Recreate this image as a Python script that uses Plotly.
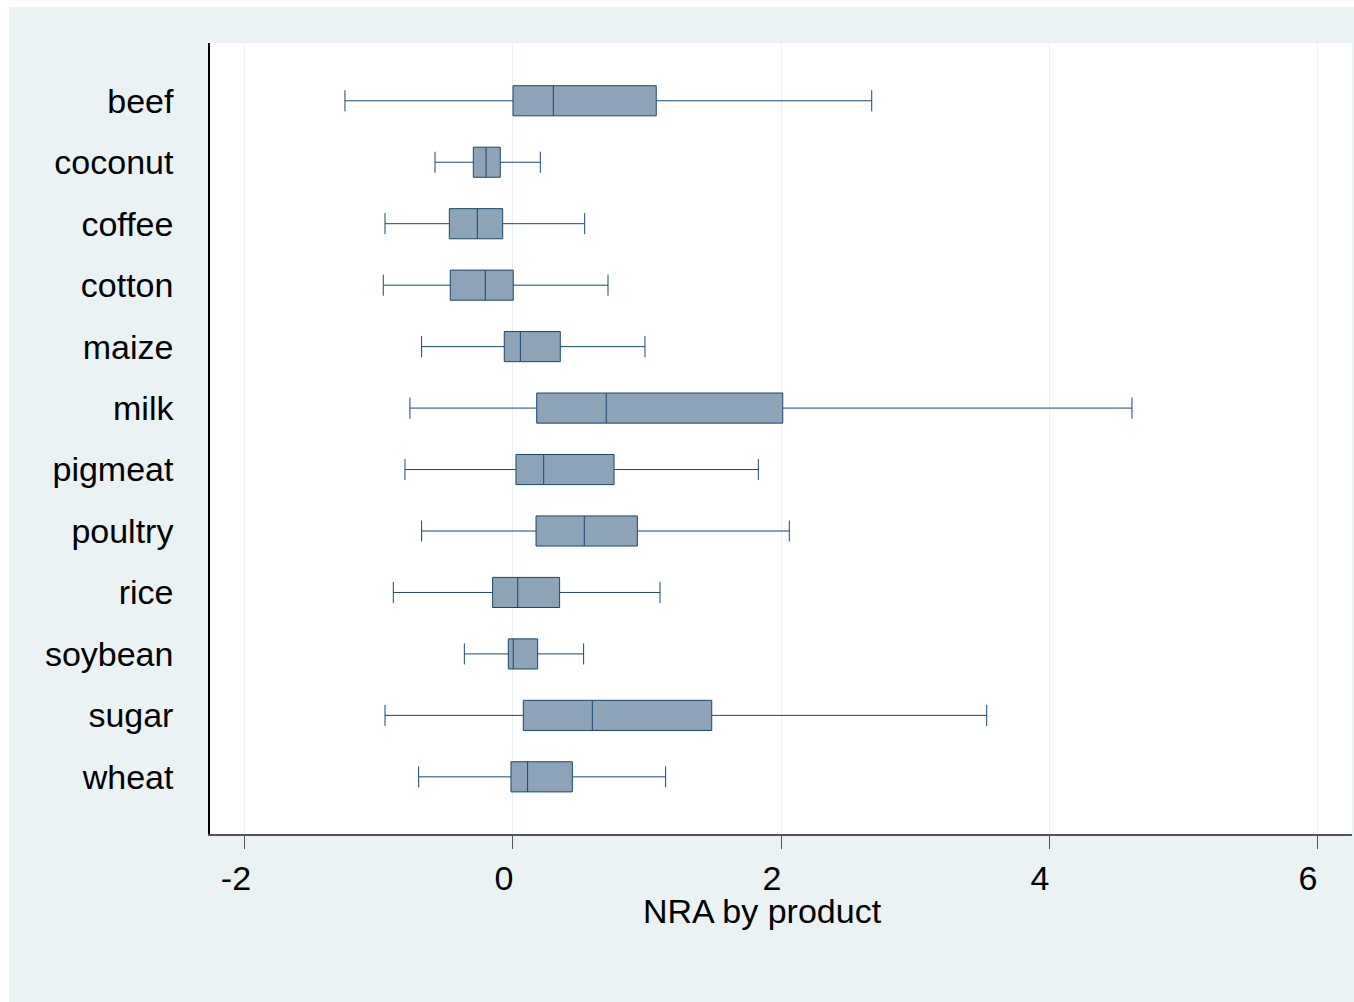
import plotly.graph_objects as go

products = ["beef", "coconut", "coffee", "cotton", "maize", "milk",
            "pigmeat", "poultry", "rice", "soybean", "sugar", "wheat"]
lower_adj = [-1.254, -0.582, -0.955, -0.968, -0.682, -0.769,
             -0.806, -0.682, -0.893, -0.363, -0.955, -0.704]
q1_vals = [0.000, -0.296, -0.475, -0.468, -0.065, 0.177,
           0.022, 0.172, -0.152, -0.035, 0.077, -0.015]
median_vals = [0.301, -0.201, -0.266, -0.207, 0.055, 0.696,
               0.229, 0.532, 0.035, 0.002, 0.592, 0.109]
q3_vals = [1.069, -0.095, -0.077, 0.002, 0.353, 2.013,
           0.754, 0.928, 0.348, 0.184, 1.483, 0.443]
upper_adj = [2.677, 0.204, 0.535, 0.709, 0.985, 4.619,
             1.831, 2.062, 1.097, 0.527, 3.535, 1.139]
x_ticks = [-2, 0, 2, 4, 6]
x_title = "NRA by product"

W, H = 1354, 1002
ML, MR, MT, MB = 210, 2, 43, 168
PW, PH = W - ML - MR, H - MT - MB
FRAME = "#EAF2F3"
FONT = "Arial, Liberation Sans, sans-serif"

def px_x(p):
    return (p - ML) / PW

def px_y(p):
    return (H - MB - p) / PH

fig = go.Figure()
fig.add_trace(go.Box(
    y=products, q1=q1_vals, median=median_vals, q3=q3_vals,
    lowerfence=lower_adj, upperfence=upper_adj,
    orientation="h", boxpoints=False,
    fillcolor="#8DA3B8", line=dict(color="#1A476F", width=1),
    width=0.49, whiskerwidth=0.7, showlegend=False,
))

fig.update_layout(
    width=W, height=H,
    margin=dict(l=ML, r=MR, t=MT, b=MB, pad=0),
    paper_bgcolor=FRAME, plot_bgcolor="white",
    font=dict(family=FONT, size=34, color="black"),
    showlegend=False,
    xaxis=dict(
        range=[-2.261, 6.261], tickvals=x_ticks,
        ticktext=[str(v) for v in x_ticks],
        showgrid=True, gridcolor=FRAME, gridwidth=1,
        zeroline=False, showline=True, linecolor="#555555", linewidth=1.5,
        ticks="outside", ticklen=13, tickwidth=1.2, tickcolor="#555555",
        tickfont=dict(size=34, family=FONT, color="black"),
        ticklabelshift=-9, ticklabelstandoff=0,
    ),
    yaxis=dict(
        type="category", categoryorder="array", categoryarray=products,
        range=[11.93, -0.94],
        showgrid=False, zeroline=False,
        showline=True, linecolor="black", linewidth=1.5,
        ticks="", ticklabelstandoff=28,
        tickfont=dict(size=34, family=FONT, color="black"),
    ),
    shapes=[
        dict(type="rect", xref="paper", yref="paper",
             x0=px_x(-2), x1=px_x(9), y0=px_y(H + 2), y1=px_y(-2),
             fillcolor="white", line=dict(width=0), layer="above"),
        dict(type="rect", xref="paper", yref="paper",
             x0=px_x(-2), x1=px_x(W + 2), y0=px_y(7), y1=px_y(-2),
             fillcolor="white", line=dict(width=0), layer="above"),
    ],
    annotations=[
        dict(text=x_title, xref="paper", yref="paper",
             x=px_x(762), y=px_y(911), xanchor="center", yanchor="middle",
             showarrow=False, font=dict(size=34, family=FONT, color="black")),
    ],
)

fig.write_html(
    "out.html",
    config={"displayModeBar": False},
    post_script="document.body.style.margin='0';"
                "document.body.style.overflow='hidden';",
)
